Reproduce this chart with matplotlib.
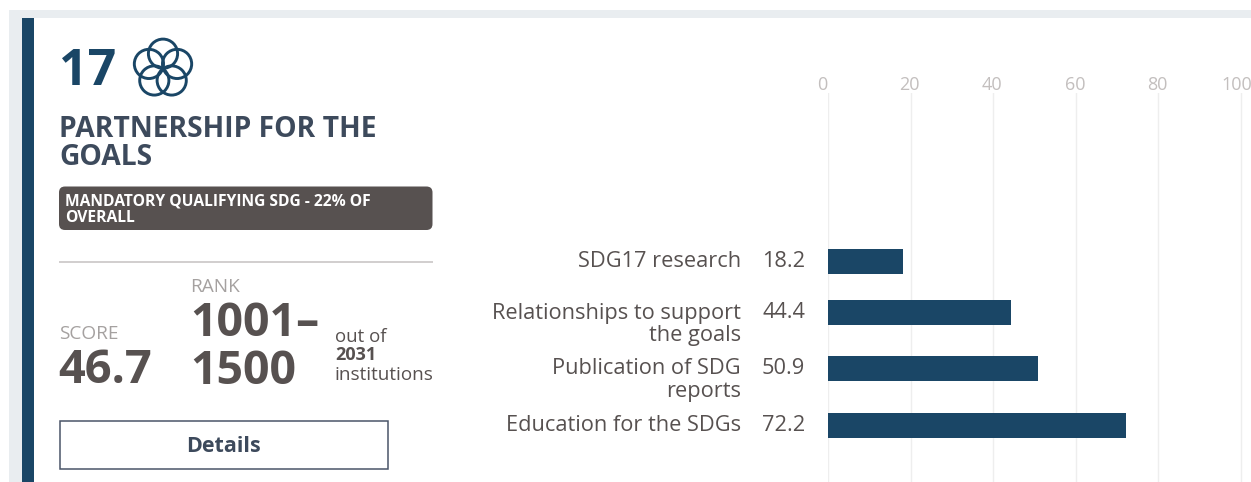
import numpy as np
import matplotlib.pyplot as plt
from matplotlib.patches import Circle, FancyBboxPatch, Rectangle
from matplotlib.transforms import ScaledTranslation

plt.rcParams['font.family'] = ['Open Sans', 'DejaVu Sans']

# data
categories = ['SDG17 research', 'Relationships to support\nthe goals',
              'Publication of SDG\nreports', 'Education for the SDGs']
values = [18.2, 44.4, 50.9, 72.2]
value_labels = ['18.2', '44.4', '50.9', '72.2']
ticks = [0, 20, 40, 60, 80, 100]

W, H = 1251, 482
NAVY = '#1a4666'
DARK = '#3d4a5c'
GREY = '#575150'
LIGHT = '#a5a1a0'


def px(size):
    # font size given in screen pixels
    return size * 72 / 100


fig = plt.figure(figsize=(W / 100, H / 100), dpi=100, facecolor='white')

# card drawn in pixel coordinates
bg = fig.add_axes([0, 0, 1, 1])
bg.set_xlim(0, W)
bg.set_ylim(H, 0)
bg.axis('off')
bg.add_patch(Rectangle((9, 10), W - 9, 7.5, fc='#e9edf0', ec='none'))
bg.add_patch(Rectangle((9, 10), 12.5, H - 10, fc='#e9edf0', ec='none'))
bg.add_patch(Rectangle((21.5, 17.5), 12.5, H - 17.5, fc=NAVY, ec='none'))

bg.text(59, 85, '17', fontsize=px(50), fontweight='bold', color=NAVY, va='baseline')

# flower icon
for ang in np.deg2rad([90, 162, 234, 306, 18]):
    bg.add_patch(Circle((163 + 14.8 * np.cos(ang), 68.5 - 14.8 * np.sin(ang)), 14.6,
                        fc='none', ec=NAVY, lw=2.1))

bg.text(59, 137, 'PARTNERSHIP FOR THE', fontsize=px(28.2), fontweight='bold', color=DARK)
bg.text(59, 165, 'GOALS', fontsize=px(28.2), fontweight='bold', color=DARK)

bg.add_patch(FancyBboxPatch((59, 186.5), 373.5, 43.5, boxstyle='round,pad=0,rounding_size=6',
                            fc=GREY, ec='none'))
bg.text(65, 206, 'MANDATORY QUALIFYING SDG - 22% OF', fontsize=px(15.6), fontweight='bold', color='white')
bg.text(65, 222, 'OVERALL', fontsize=px(15.6), fontweight='bold', color='white')

bg.plot([59, 432.5], [262, 262], color='#c9c6c6', lw=1.2, solid_capstyle='butt')

bg.text(59, 339, 'SCORE', fontsize=px(19), color=LIGHT)
bg.text(58, 383, '46.7', fontsize=px(47), fontweight='bold', color=GREY)
bg.text(190, 292, 'RANK', fontsize=px(19), color=LIGHT)
bg.text(190, 336, '1001–', fontsize=px(46.5), fontweight='bold', color=GREY)
bg.text(190, 384, '1500', fontsize=px(46.5), fontweight='bold', color=GREY)
bg.text(335, 342, 'out of', fontsize=px(18.7), color=GREY)
bg.text(335, 360, '2031', fontsize=px(18), fontweight='bold', color=GREY)
bg.text(335, 380, 'institutions', fontsize=px(18.9), color=GREY)

bg.add_patch(Rectangle((59.5, 421), 328.5, 48, fc='white', ec='#4a5568', lw=1.1))
bg.text(224, 447, 'Details', fontsize=px(21.5), fontweight='bold', color=DARK, ha='center', va='center')

# bar chart, y axis runs in screen rows
row_y = [261, 312.5, 368.5, 425]
left, right = 828, 1241
top = 93
ax = fig.add_axes([left / W, 0, (W - left) / W, (H - top) / H])
ax.patch.set_alpha(0)
ax.set_xlim(0, (W - left) / (right - left) * 100)
ax.set_ylim(H, top)
ax.barh(row_y, values, height=25, color=NAVY, zorder=3)
ax.set_yticks([])
ax.set_xticks(ticks)
ax.xaxis.tick_top()
ax.tick_params(axis='x', length=0, pad=-1, labelsize=px(18), labelcolor='#c3bfbe')
# the reference labels sit a little left of their grid lines
label_shift = [-6, -1.5, -1, -1, -1.5, -4.5]
for lab, dx in zip(ax.get_xticklabels(), label_shift):
    lab.set_transform(lab.get_transform() + ScaledTranslation(dx / 100, 0, fig.dpi_scale_trans))
ax.grid(axis='x', color='#eeeeee', lw=1, zorder=0)
for s in ax.spines.values():
    s.set_visible(False)

for y, cat, lab in zip(row_y, categories, value_labels):
    first = y + 0.5
    lines = cat.split('\n')
    for i, line in enumerate(lines):
        bg.text(741, first + i * 22, line, fontsize=px(21.8), color=GREY, ha='right', va='center')
    bg.text(805, first, lab, fontsize=px(21.8), color=GREY, ha='right', va='center')

fig.savefig('out.png', dpi=100)
